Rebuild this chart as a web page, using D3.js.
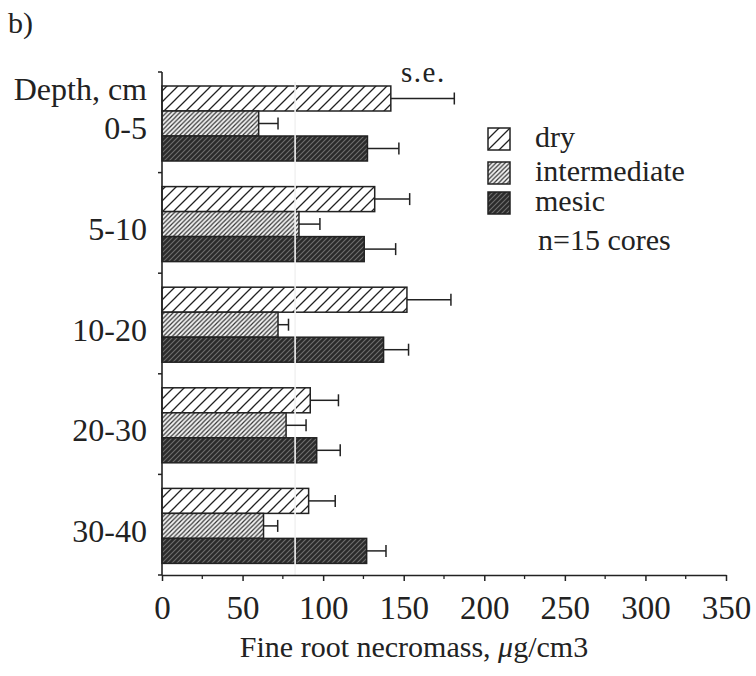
<!DOCTYPE html>
<html>
<head>
<meta charset="utf-8">
<script src="https://cdn.jsdelivr.net/npm/d3@7"></script>
<style>
  html, body { margin: 0; padding: 0; background: #fff; }
  svg { display: block; }
  svg text { font-family: "Liberation Serif", "DejaVu Serif", serif; }
</style>
</head>
<body>
<svg id="chart" width="756" height="676"></svg>
<script>
// ── Datos ──
const depths = ["0-5", "5-10", "10-20", "20-30", "30-40"];
const series = ["dry", "intermediate", "mesic"];

const dryVals  = [142, 132, 152, 92, 91];
const dryErr   = [39.4, 21.7, 27.3, 17.5, 16.5];
const interVals = [60, 85, 72, 77, 63];
const interErr  = [12, 13, 6.5, 12.4, 8.8];
const mesicVals = [127.5, 125.5, 137.5, 96, 127];
const mesicErr  = [19.5, 19.5, 15.5, 14.6, 12];

const xMajorTicks = [0, 50, 100, 150, 200, 250, 300, 350];
const xMinorTicks = [25, 75, 125, 175, 225, 275, 325];

const values = { dry: dryVals, intermediate: interVals, mesic: mesicVals };
const errors = { dry: dryErr, intermediate: interErr, mesic: mesicErr };

const rows = [];
depths.forEach((d, i) => {
  series.forEach(s => rows.push({ depth: d, series: s, value: values[s][i], se: errors[s][i] }));
});

const svg = d3.select("#chart").attr("font-family", "'Liberation Serif', serif");
const ink = "#222";

// ── Escalas ──
const x = d3.scaleLinear().domain([0, 350]).range([162, 726]);
const y = d3.scaleBand().domain(depths).range([72, 575]);
const ySub = d3.scaleBand().domain(series).range([14, 89]);

// ── Patrones de relleno ──
const defs = svg.append("defs");
function hatch(id, size, bg, lineColor, lineW) {
  const p = defs.append("pattern")
    .attr("id", id).attr("patternUnits", "userSpaceOnUse")
    .attr("width", size).attr("height", size);
  p.append("rect").attr("width", size).attr("height", size).attr("fill", bg);
  p.append("path")
    .attr("d", `M0,${size} L${size},0 M${-size / 2},${size / 2} L${size / 2},${-size / 2} M${size / 2},${size * 1.5} L${size * 1.5},${size / 2}`)
    .attr("stroke", lineColor).attr("stroke-width", lineW);
}
hatch("pat-dry", 11, "#fff", "#222", 1.3);
hatch("pat-intermediate", 4.5, "#f4f4f4", "#333", 1.2);
hatch("pat-mesic", 5, "#2b2b2b", "#6e6e6e", 1.1);

// ── Barras ──
svg.append("g").selectAll("rect")
  .data(rows).join("rect")
  .attr("x", x(0))
  .attr("y", d => y(d.depth) + ySub(d.series))
  .attr("width", d => x(d.value) - x(0))
  .attr("height", ySub.bandwidth())
  .attr("fill", d => `url(#pat-${d.series})`)
  .attr("stroke", ink).attr("stroke-width", 1.5);

// Línea blanca del escaneo
const scanLine = 82.6;
svg.append("line")
  .attr("x1", x(scanLine)).attr("x2", x(scanLine))
  .attr("y1", y.range()[0] + 10).attr("y2", y.range()[1] + 1)
  .attr("stroke", "#f2f2f2").attr("stroke-width", 1.6);

// ── Barras de error ──
const errG = svg.append("g").attr("stroke", ink).attr("stroke-width", 1.5);
errG.selectAll("line.stem").data(rows).join("line").attr("class", "stem")
  .attr("x1", d => x(d.value)).attr("x2", d => x(d.value + d.se))
  .attr("y1", d => y(d.depth) + ySub(d.series) + ySub.bandwidth() / 2)
  .attr("y2", d => y(d.depth) + ySub(d.series) + ySub.bandwidth() / 2);
errG.selectAll("line.cap").data(rows).join("line").attr("class", "cap")
  .attr("x1", d => x(d.value + d.se)).attr("x2", d => x(d.value + d.se))
  .attr("y1", d => y(d.depth) + ySub(d.series) + ySub.bandwidth() / 2 - 6)
  .attr("y2", d => y(d.depth) + ySub(d.series) + ySub.bandwidth() / 2 + 6);

// ── Eje X ──
const xAxis = svg.append("g").attr("transform", `translate(0,${y.range()[1]})`)
  .call(d3.axisBottom(x).tickValues(xMajorTicks).tickSize(6).tickSizeOuter(0));
xAxis.attr("font-family", "'Liberation Serif', serif");
xAxis.select(".domain").attr("stroke", ink).attr("stroke-width", 1.6);
xAxis.selectAll(".tick line").attr("stroke", ink).attr("stroke-width", 1.5);
xAxis.selectAll(".tick text")
  .attr("font-size", 33).attr("fill", ink)
  .attr("dy", "0.71em").attr("y", 21);

svg.append("g").selectAll("line").data(xMinorTicks).join("line")
  .attr("x1", d => x(d)).attr("x2", d => x(d))
  .attr("y1", y.range()[1]).attr("y2", y.range()[1] + 4)
  .attr("stroke", ink).attr("stroke-width", 1.3);

svg.append("text")
  .attr("x", 414).attr("y", 657).attr("text-anchor", "middle")
  .attr("font-size", 30).attr("fill", ink)
  .html('Fine root necromass, <tspan font-style="italic">μ</tspan>g/cm3');

// ── Eje Y ──
svg.append("line")
  .attr("x1", x(0)).attr("x2", x(0))
  .attr("y1", y.range()[0]).attr("y2", y.range()[1])
  .attr("stroke", ink).attr("stroke-width", 1.6);

const boundaries = depths.map(d => y(d)).concat([y.range()[1]]);
svg.append("g").selectAll("line").data(boundaries).join("line")
  .attr("x1", x(0) - 4).attr("x2", x(0))
  .attr("y1", d => d).attr("y2", d => d)
  .attr("stroke", ink).attr("stroke-width", 1.5);

svg.append("g").selectAll("text").data(depths).join("text")
  .attr("x", 147).attr("y", d => y(d) + y.bandwidth() / 2 + 17)
  .attr("text-anchor", "end").attr("font-size", 32).attr("fill", ink)
  .text(d => d);

svg.append("text")
  .attr("x", 147).attr("y", 100).attr("text-anchor", "end")
  .attr("font-size", 32).attr("fill", ink).text("Depth, cm");

svg.append("text").attr("x", 8).attr("y", 33)
  .attr("font-size", 30).attr("fill", ink).text("b)");

svg.append("text").attr("x", 401).attr("y", 82)
  .attr("font-size", 29).attr("letter-spacing", 1.5).attr("fill", ink).text("s.e.");

// ── Leyenda ──
const legendTop = [128, 162, 192];
const legend = svg.append("g").selectAll("g").data(series).join("g")
  .attr("transform", (d, i) => `translate(488,${legendTop[i]})`);
legend.append("rect")
  .attr("width", 22).attr("height", 22)
  .attr("fill", d => `url(#pat-${d})`)
  .attr("stroke", ink).attr("stroke-width", 1.5);
legend.append("text")
  .attr("x", 47).attr("y", 19)
  .attr("font-size", 30).attr("fill", ink).text(d => d);

svg.append("text").attr("x", 538).attr("y", 250)
  .attr("font-size", 30).attr("fill", ink).text("n=15 cores");
</script>
</body>
</html>
